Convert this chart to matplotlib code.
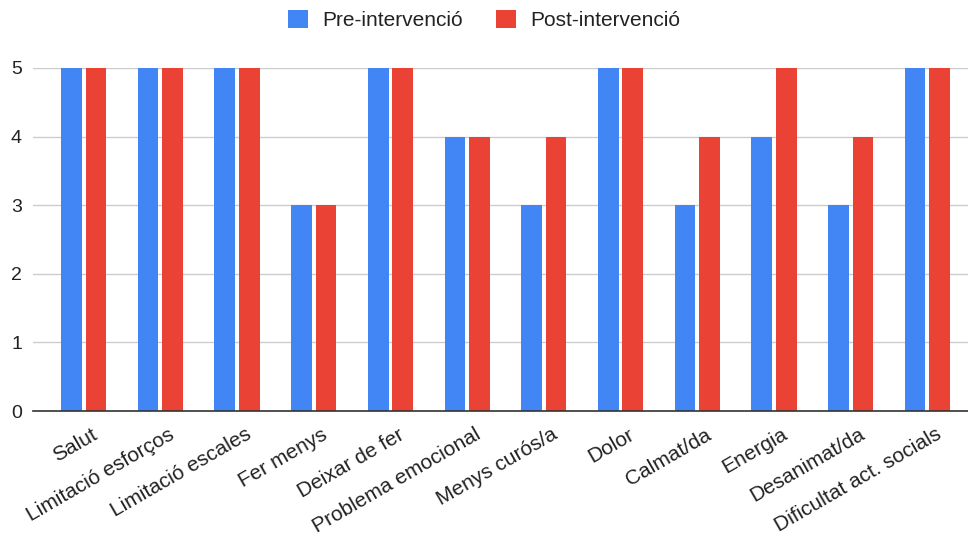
import matplotlib
matplotlib.use("Agg")
import matplotlib.pyplot as plt
import numpy as np

categories = ["Salut", "Limitació esforços", "Limitació escales", "Fer menys",
              "Deixar de fer", "Problema emocional", "Menys curós/a", "Dolor",
              "Calmat/da", "Energia", "Desanimat/da", "Dificultat act. socials"]
pre = [5, 5, 5, 3, 5, 4, 3, 5, 3, 4, 3, 5]
post = [5, 5, 5, 3, 5, 4, 4, 5, 4, 5, 4, 5]
yticks = [0, 1, 2, 3, 4, 5]

plt.rcParams['font.family'] = ['Liberation Sans', 'DejaVu Sans']

fig = plt.figure(figsize=(9.68, 5.37), dpi=100)
ax = fig.add_axes([33 / 968, 1 - 411 / 537, 1 - 33 / 968, (411 - 68) / 537])

x = np.arange(len(categories))
w = 0.27
off = 0.16
ax.bar(x - off, pre, width=w, color="#4285F4", label="Pre-intervenció", zorder=3)
ax.bar(x + off, post, width=w, color="#EA4335", label="Post-intervenció", zorder=3)

ax.set_xlim(-0.66, 11.53)
ax.set_ylim(0, 5)
ax.set_yticks(yticks)
ax.yaxis.grid(True, color="#cccccc", linewidth=1, zorder=0)
ax.set_axisbelow(True)
for s in ["top", "right", "left"]:
    ax.spines[s].set_visible(False)
ax.spines["bottom"].set_color("#333333")
ax.spines["bottom"].set_linewidth(1.2)
ax.spines["bottom"].set_zorder(4)
ax.tick_params(axis="y", length=0, pad=8, labelsize=14, labelcolor="#222222")
ax.tick_params(axis="x", length=0, pad=10, labelsize=15, labelcolor="#222222")
ax.set_xticks(x + 0.10)
ax.set_xticklabels(categories, rotation=30, ha="right", va="top", rotation_mode="anchor")

leg = fig.legend(loc="center", bbox_to_anchor=(0.5, 1 - 20 / 537), ncol=2, frameon=False,
                 fontsize=15, handlelength=0.96, handleheight=0.96, columnspacing=1.6,
                 handletextpad=0.67)
for t in leg.get_texts():
    t.set_color("#222222")

fig.savefig("out.png", dpi=100)
